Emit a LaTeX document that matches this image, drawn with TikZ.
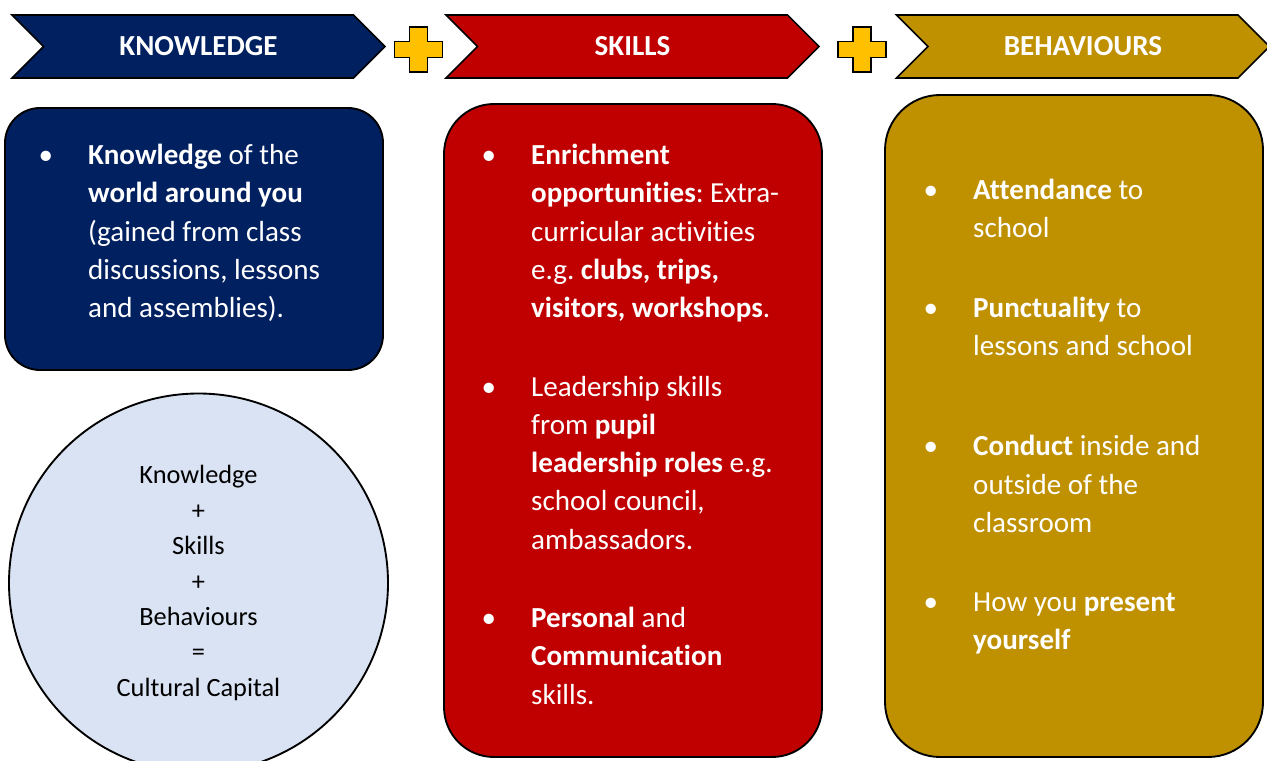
\documentclass[tikz,border=0pt]{standalone}
\usepackage{fontspec}
\setmainfont{Carlito}[Ligatures=NoCommon]
\usetikzlibrary{shapes.symbols}
\frenchspacing

\definecolor{knavy}{HTML}{002060}
\definecolor{kred}{HTML}{C00000}
\definecolor{kgold}{HTML}{BF9000}
\definecolor{kplus}{HTML}{FFC000}
\definecolor{kcircle}{HTML}{DAE3F3}
\newlength\upx
\setlength\upx{0.03cm}
\newcommand\bul{\llap{\textbullet\hspace{30pt}}}

\begin{document}
\begin{tikzpicture}[x=1\upx, y=-1\upx,
		header/.style={signal, signal from=west, signal to=east, draw=black, line width=1.4pt, minimum width=373\upx, minimum height=63\upx, inner sep=0pt, text=white, font=\fontsize{24.8}{28}\selectfont\bfseries},
		panel/.style={draw=black, line width=1.6pt, minimum width=378\upx, inner sep=0pt},
		body/.style={anchor=north west, inner sep=0pt, text=white, align=left, font=\fontsize{24.8}{32.7}\selectfont},
		plusmark/.pic={\draw[fill=kplus, line width=1.4pt] (-9,-22.5) -- (9,-22.5) -- (9,-8) -- (24,-8) -- (24,8) -- (9,8) -- (9,22.5) -- (-9,22.5) -- (-9,8) -- (-24,8) -- (-24,-8) -- (-9,-8) -- cycle;}]
		\clip (0,0) rectangle (1267,760);

		\node[header, fill=knavy] (know) at (198.5,46.5) {KNOWLEDGE};
		\node[header, fill=kred] (skills) at (632.5,46.5) {SKILLS};
		\node[header, fill=kgold] (behav) at (1083,46.5) {BEHAVIOURS};
		\pic at (418.5,49.5) {plusmark};
		\pic at (862,49.5) {plusmark};

		\node[panel, fill=knavy, rounded corners=35\upx, minimum height=262\upx] (kbox) at (194,239) {};
		\node[panel, fill=kred, rounded corners=50\upx, minimum height=653\upx] (sbox) at (633,430.5) {};
		\node[panel, fill=kgold, rounded corners=55\upx, minimum height=662\upx] (behbox) at (1074,426) {};

		% first baselines sit at y = 163 and 198
		\node[body] (ktext) at (88,144) {\bul\textbf{Knowledge} of the\\ \textbf{world around you}\\ (gained from class\\ discussions, lessons\\ and assemblies).};
		\node[body] (stext) at (531,144) {\bul\textbf{Enrichment}\\ \textbf{opportunities}: Extra-\\ curricular activities\\ e.g. \textbf{clubs, trips,}\\ \textbf{visitors, workshops}.\\[34pt]
			\bul Leadership skills\\ from \textbf{pupil}\\ \textbf{leadership roles} e.g.\\ school council,\\ ambassadors.\\[34pt]
			\bul\textbf{Personal} and\\ \textbf{Communication}\\ skills.};
		\node[body] (btext) at (973,179) {\bul\textbf{Attendance} to\\ school\\[35pt]
			\bul\textbf{Punctuality} to\\ lessons and school\\[53pt]
			\bul\textbf{Conduct} inside and\\ outside of the\\ classroom\\[34.5pt]
			\bul How you \textbf{present}\\ \textbf{yourself}};

		\node[circle, draw=black, line width=1.6pt, fill=kcircle, minimum size=379\upx, inner sep=0pt, align=center, font=\fontsize{22.5}{30.2}\selectfont] (cap) at (198.5,583) {Knowledge\\ +\\ Skills\\ +\\ Behaviours\\ =\\ Cultural Capital};
\end{tikzpicture}
\end{document}
